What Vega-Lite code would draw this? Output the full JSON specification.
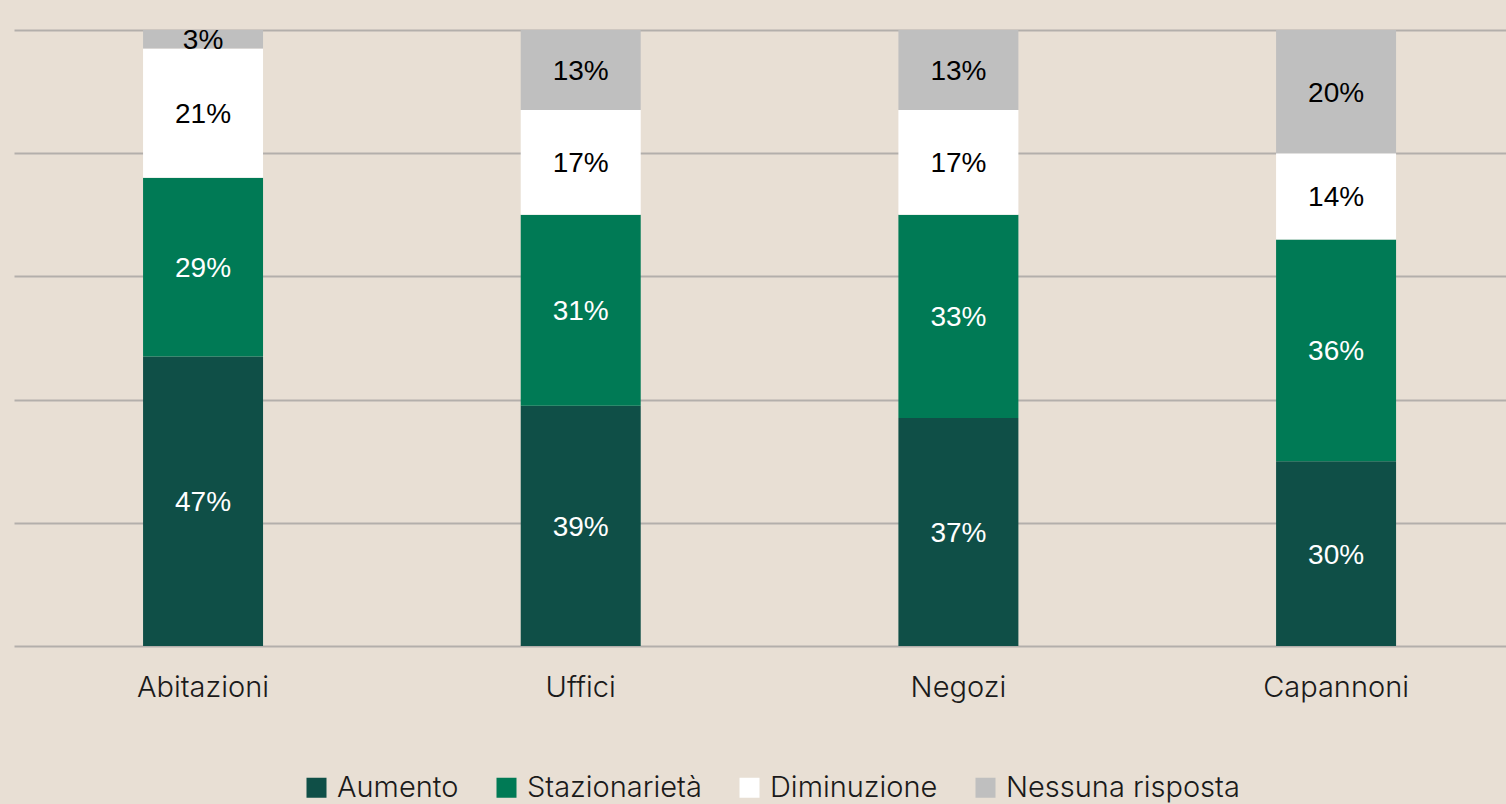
{
  "$schema": "https://vega.github.io/schema/vega-lite/v6.json",
  "width": 1492,
  "height": 616,
  "autosize": "none",
  "padding": {"left": 14, "top": 30, "right": 0, "bottom": 158},
  "background": "#e8dfd4",
  "config": {
    "view": {"stroke": null},
    "font": "Inter"
  },
  "data": {
    "values": [
      {"tipo": "Abitazioni", "cat": "Aumento", "k": 1, "v": 0.47},
      {"tipo": "Abitazioni", "cat": "Stazionarietà", "k": 2, "v": 0.29},
      {"tipo": "Abitazioni", "cat": "Diminuzione", "k": 3, "v": 0.21},
      {"tipo": "Abitazioni", "cat": "Nessuna risposta", "k": 4, "v": 0.03},
      {"tipo": "Uffici", "cat": "Aumento", "k": 1, "v": 0.39},
      {"tipo": "Uffici", "cat": "Stazionarietà", "k": 2, "v": 0.31},
      {"tipo": "Uffici", "cat": "Diminuzione", "k": 3, "v": 0.17},
      {"tipo": "Uffici", "cat": "Nessuna risposta", "k": 4, "v": 0.13},
      {"tipo": "Negozi", "cat": "Aumento", "k": 1, "v": 0.37},
      {"tipo": "Negozi", "cat": "Stazionarietà", "k": 2, "v": 0.33},
      {"tipo": "Negozi", "cat": "Diminuzione", "k": 3, "v": 0.17},
      {"tipo": "Negozi", "cat": "Nessuna risposta", "k": 4, "v": 0.13},
      {"tipo": "Capannoni", "cat": "Aumento", "k": 1, "v": 0.30},
      {"tipo": "Capannoni", "cat": "Stazionarietà", "k": 2, "v": 0.36},
      {"tipo": "Capannoni", "cat": "Diminuzione", "k": 3, "v": 0.14},
      {"tipo": "Capannoni", "cat": "Nessuna risposta", "k": 4, "v": 0.20}
    ]
  },
  "encoding": {
    "x": {
      "field": "tipo",
      "type": "nominal",
      "sort": ["Abitazioni", "Uffici", "Negozi", "Capannoni"],
      "scale": {"paddingInner": 0.6823, "paddingOuter": 0.3164, "align": 0.54},
      "axis": {
        "title": null,
        "labelAngle": 0,
        "domain": false,
        "ticks": false,
        "labelFontSize": 29,
        "labelFont": "Inter",
        "labelFontWeight": 300,
        "labelColor": "#1a1a1a",
        "labelPadding": 27
      }
    },
    "y": {
      "field": "v",
      "type": "quantitative",
      "stack": "zero",
      "scale": {"domain": [0, 1], "nice": false},
      "axis": {
        "title": null,
        "labels": false,
        "ticks": false,
        "domain": false,
        "values": [0, 0.2, 0.4, 0.6, 0.8, 1],
        "gridColor": "#b3afab",
        "gridWidth": 2,
        "gridOpacity": 1
      }
    },
    "order": {"field": "k", "type": "quantitative", "sort": "ascending"}
  },
  "layer": [
    {
      "mark": {"type": "bar"},
      "encoding": {
        "color": {
          "field": "cat",
          "type": "nominal",
          "sort": ["Aumento", "Stazionarietà", "Diminuzione", "Nessuna risposta"],
          "scale": {
            "domain": ["Aumento", "Stazionarietà", "Diminuzione", "Nessuna risposta"],
            "range": ["#0f4f47", "#007a55", "#ffffff", "#bfbfbf"]
          },
          "legend": {
            "title": null,
            "orient": "none",
            "legendX": 288,
            "legendY": 743,
            "direction": "horizontal",
            "symbolType": "square",
            "symbolSize": 400,
            "symbolStrokeWidth": 0,
            "symbolOpacity": 1,
            "labelFontSize": 29,
            "labelFont": "Inter",
            "labelFontWeight": 300,
            "labelColor": "#1a1a1a",
            "labelOffset": 6,
            "columnPadding": 33,
            "labelLimit": 400
          }
        }
      }
    },
    {
      "mark": {"type": "text", "font": "Liberation Sans", "fontSize": 28, "baseline": "middle", "dy": 2},
      "encoding": {
        "y": {"field": "v", "type": "quantitative", "stack": "zero", "bandPosition": 0.5},
        "detail": {"field": "cat", "type": "nominal"},
        "text": {"field": "v", "type": "quantitative", "format": ".0%"},
        "color": {
          "condition": {"test": "datum.cat === 'Aumento' || datum.cat === 'Stazionarietà'", "value": "#ffffff"},
          "value": "#000000"
        }
      }
    }
  ]
}
